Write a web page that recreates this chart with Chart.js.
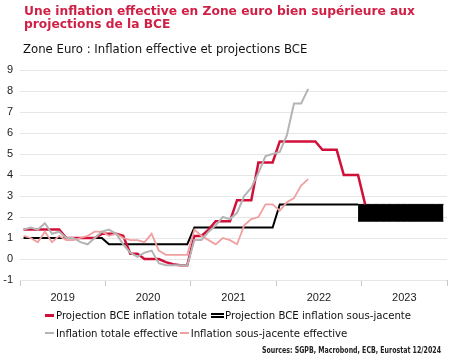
<!DOCTYPE html>
<html><head><meta charset="utf-8">
<script src="https://cdn.jsdelivr.net/npm/chart.js@4"></script>
<style>
html,body{margin:0;padding:0;background:#fff;}
body{width:460px;height:360px;position:relative;overflow:hidden;}
#c{position:absolute;left:0;top:0;}
.t{position:absolute;white-space:nowrap;}
#title{left:24px;top:5px;font:bold 11.5px "DejaVu Sans", sans-serif;line-height:13px;color:#d01f45;transform-origin:0 0;}
#sub{left:23px;top:41px;font:13px "Liberation Sans Narrow","DejaVu Sans Condensed",sans-serif;color:#111;transform-origin:0 0;}
.row{position:absolute;left:45px;display:flex;align-items:center;height:16px;font:11.3px "Liberation Sans Narrow","DejaVu Sans Condensed",sans-serif;color:#111;white-space:nowrap;}
.sw{display:inline-block;width:9px;height:3px;margin-right:2px;}
.gap{display:inline-block;width:4px;}
#src{left:262px;top:345px;font:bold 8.5px "Liberation Sans Narrow","DejaVu Sans Condensed",sans-serif;color:#222;transform-origin:0 0;}
</style>
</head>
<body>
<canvas id="c" width="460" height="360"></canvas>
<div class="t" id="title">Une inflation effective en Zone euro bien supérieure aux<br>projections de la BCE</div>
<div class="t" id="sub">Zone Euro : Inflation effective et projections BCE</div>
<div class="row" style="top:307px"><span class="sw" style="background:#d0103a"></span>Projection BCE inflation totale<span class="gap"></span><span class="sw" style="width:13px;height:1px;border-top:2px solid #000;border-bottom:2px solid #000;margin-right:1px"></span>Projection BCE inflation sous-jacente</div>
<div class="row" style="top:325px"><span class="sw" style="background:#b4b4b4;height:2px"></span>Inflation totale effective<span class="gap" style="width:2px"></span><span class="sw" style="background:#f0a0a0;height:2px"></span>Inflation sous-jacente effective</div>
<div class="t" id="src">Sources: SGPB, Macrobond, ECB, Eurostat 12/2024</div>
<script>
// Months indexed from Jan 2019 (0)
const yearLabels = ['2019', '2020', '2021', '2022', '2023'];
const yMin = -1, yMax = 9;

const projTotale = [
  1.4, 1.4, 1.4, 1.4, 1.4, 1.4, 1.0, 1.0, 1.0, 1.0, 1.0, 1.2,
  1.2, 1.2, 1.1, 0.25, 0.25, 0.0, 0.0, 0.0, -0.15, -0.25, -0.3, -0.3,
  1.1, 1.1, 1.4, 1.8, 1.8, 1.8, 2.8, 2.8, 2.8, 4.6, 4.6, 4.6,
  5.6, 5.6, 5.6, 5.6, 5.6, 5.6, 5.2, 5.2, 5.2, 4.0, 4.0, 4.0,
  2.6
];
const projSousJacente = [
  1.0, 1.0, 1.0, 1.0, 1.0, 1.0, 1.0, 1.0, 1.0, 1.0, 1.0, 1.0,
  0.7, 0.7, 0.7, 0.7, 0.7, 0.7, 0.7, 0.7, 0.7, 0.7, 0.7, 0.7,
  1.5, 1.5, 1.5, 1.5, 1.5, 1.5, 1.5, 1.5, 1.5, 1.5, 1.5, 1.5,
  2.6, 2.6, 2.6, 2.6, 2.6, 2.6, 2.6, 2.6, 2.6, 2.6, 2.6, 2.6
];
const bandStart = 47;
const bandHaut = [2.6, 2.6, 2.6, 2.6, 2.6, 2.6, 2.6, 2.6, 2.6, 2.6, 2.6, 2.6, 2.6];
const bandBas  = [1.8, 1.8, 1.8, 1.8, 1.8, 1.8, 1.8, 1.8, 1.8, 1.8, 1.8, 1.8, 1.8];
const inflTotale = [
  1.4, 1.5, 1.4, 1.7, 1.2, 1.3, 1.0, 1.0, 0.8, 0.7, 1.0, 1.3,
  1.4, 1.2, 0.7, 0.3, 0.1, 0.3, 0.4, -0.2, -0.3, -0.3, -0.3, -0.3,
  0.9, 0.9, 1.3, 1.6, 2.0, 1.9, 2.2, 3.0, 3.4, 4.1, 4.9, 5.0,
  5.1, 5.9, 7.4, 7.4, 8.1
];
const inflSousJacente = [
  1.1, 1.0, 0.8, 1.3, 0.8, 1.1, 0.9, 0.9, 1.0, 1.1, 1.3, 1.3,
  1.1, 1.2, 1.0, 0.9, 0.9, 0.8, 1.2, 0.4, 0.2, 0.2, 0.2, 0.2,
  1.4, 1.1, 0.9, 0.7, 1.0, 0.9, 0.7, 1.6, 1.9, 2.0, 2.6, 2.6,
  2.3, 2.7, 2.9, 3.5, 3.8
];

// fit text blocks to the widths seen in the reference
function fitWidth(id, target) {
  const el = document.getElementById(id);
  const w = el.getBoundingClientRect().width;
  if (w > 0) el.style.transform = 'scaleX(' + (target / w) + ')';
}
fitWidth('src', 179);
fitWidth('title', 391);

const pts = (arr, start = 0) => arr.map((v, i) => ({ x: start + i + 0.5, y: v }));

Chart.defaults.font.family = '"Liberation Sans", Arial, sans-serif';
Chart.defaults.color = '#222';

const line = (label, data, color, width, order) => ({
  label, data, borderColor: color, backgroundColor: color, borderWidth: width,
  pointRadius: 0, tension: 0, fill: false, order
});

new Chart(document.getElementById('c'), {
  type: 'line',
  data: {
    datasets: [
      line('Inflation totale effective', pts(inflTotale), '#b4b4b4', 2, 0),
      line('Inflation sous-jacente effective', pts(inflSousJacente), '#f0a0a0', 1.8, 1),
      line('Projection BCE inflation totale', pts(projTotale), '#d0103a', 2.5, 2),
      line('Projection BCE inflation sous-jacente', pts(projSousJacente), '#000000', 2, 3),
      line('bande haut', pts(bandHaut, bandStart), '#000', 1, 4),
      Object.assign(line('bande bas', pts(bandBas, bandStart), '#000', 1, 5), { fill: '-1', backgroundColor: '#000' })
    ]
  },
  options: {
    responsive: false,
    animation: false,
    layout: { padding: { top: 70, right: 13, left: 0, bottom: 0 } },
    plugins: { legend: { display: false }, tooltip: { enabled: false }, title: { display: false } },
    scales: {
      x: {
        type: 'linear', min: 0, max: 60,
        afterFit: s => { s.height = 80; },
        border: { display: false },
        grid: {
          drawOnChartArea: false, drawTicks: true, tickLength: 6,
          tickColor: ctx => (ctx.tick && ctx.tick.value % 12 === 0) ? '#c8c8c8' : 'rgba(0,0,0,0)'
        },
        ticks: {
          stepSize: 6, autoSkip: false, maxRotation: 0, padding: 5,
          font: { size: 11 }, color: '#222',
          callback: v => (v % 12 === 6) ? yearLabels[(v - 6) / 12] : ''
        }
      },
      y: {
        min: yMin, max: yMax,
        afterFit: s => { s.width = 20; },
        border: { display: false },
        grid: { color: '#e6e6e6', drawTicks: false },
        ticks: { stepSize: 1, padding: 7, font: { size: 11 }, color: '#222' }
      }
    }
  }
});
</script>
</body></html>
